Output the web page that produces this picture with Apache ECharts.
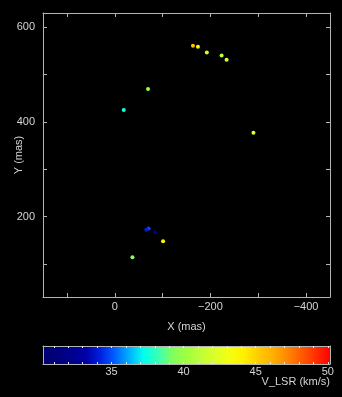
<!DOCTYPE html>
<html>
<head>
<meta charset="utf-8">
<script src="https://cdn.jsdelivr.net/npm/echarts@6/dist/echarts.min.js"></script>
<style>
html,body{margin:0;padding:0;background:#000;}
#chart{width:342px;height:397px;}
</style>
</head>
<body>
<div id="chart"></div>
<script>
// ---- data ----
const xMas = [-163.5, -173.9, -192.5, -223.4, -233.8, -69.6, -18.8, -290, -71, -66, -84, -101, -37];
const yMas = [560.6, 558.5, 546.5, 540, 531, 469.5, 425, 377, 174.7, 172, 167, 148, 114];
const vLsr = [45.5, 43.5, 41.8, 41.0, 42.0, 40.0, 37.5, 42.3, 34.8, 34.2, 31.8, 44.0, 39.5];

const xTicks = [-400, -300, -200, -100, 0, 100];
const xTickLabels = [-400, -200, 0];
const yTicks = [100, 200, 300, 400, 500, 600];
const yTickLabels = [200, 400, 600];
const cbarTicks = [31,32,33,34,35,36,37,38,39,40,41,42,43,44,45,46,47,48,49,50];
const cbarTickLabels = [35, 40, 45, 50];
const vMin = 30.25, vMax = 50.15;

// colour table (evenly spaced from vMin to vMax)
const colormap = ['#000070','#00007c','#00008e','#0000a8','#0020e0','#0060ff','#00b0ff','#00ffee',
  '#38ffb8','#80ff60','#a0ff40','#c0ff38','#dcff28','#f4ff10','#fff000','#ffcc00','#ffb000',
  '#ff8800','#ff5c00','#ff3000','#ff0000'];

const FONT = 'Liberation Sans';
const TXT = '#d4d4d4';
const FRAME = '#b4b4b4';
const fmt = v => String(v).replace('-', '\u2212');

const points = xMas.map((x, i) => [x, yMas[i], vLsr[i]]);

function frameAxis(extra) {
  return Object.assign({
    type: 'value',
    nameMoveOverlap: false,
    axisLine: {show: true, onZero: false, lineStyle: {color: FRAME, width: 1}},
    splitLine: {show: false}
  }, extra);
}

const chart = echarts.init(document.getElementById('chart'), null, {renderer: 'canvas'});
chart.setOption({
  backgroundColor: '#000',
  animation: false,
  textStyle: {fontFamily: FONT},
  title: {
    text: 'V_LSR (km/s)', right: 12, top: 376,
    textStyle: {color: TXT, fontSize: 11, fontWeight: 'normal', fontFamily: FONT},
    padding: 0
  },
  grid: [
    {left: 43, top: 13, width: 287, height: 284, outerBoundsMode: 'none', containLabel: false},
    {left: 43, top: 346, width: 287, height: 18, outerBoundsMode: 'none', containLabel: false}
  ],
  xAxis: [
    frameAxis({gridIndex: 0, position: 'bottom', min: -450, max: 150, inverse: true,
     axisTick: {show: true, inside: true, length: 4, customValues: xTicks, lineStyle: {color: FRAME}},
     axisLabel: {customValues: xTickLabels, formatter: fmt, color: TXT, fontSize: 11, margin: 4, fontFamily: FONT},
     name: 'X (mas)', nameLocation: 'middle', nameGap: 24,
     nameTextStyle: {color: TXT, fontSize: 11, fontFamily: FONT}}),
    frameAxis({gridIndex: 0, position: 'top', min: -450, max: 150, inverse: true,
     axisTick: {show: true, inside: true, length: 4, customValues: xTicks, lineStyle: {color: FRAME}},
     axisLabel: {show: false}}),
    frameAxis({gridIndex: 1, position: 'bottom', min: vMin, max: vMax, z: 5,
     axisTick: {show: true, inside: true, length: 2, customValues: cbarTicks, lineStyle: {color: '#e8e8e8'}},
     axisLabel: {customValues: cbarTickLabels, color: TXT, fontSize: 11, margin: 2, fontFamily: FONT}}),
    frameAxis({gridIndex: 1, position: 'top', min: vMin, max: vMax, z: 5,
     axisTick: {show: true, inside: true, length: 2, customValues: cbarTicks, lineStyle: {color: '#e8e8e8'}},
     axisLabel: {show: false}})
  ],
  yAxis: [
    frameAxis({gridIndex: 0, position: 'left', min: 30, max: 630,
     axisTick: {show: true, inside: true, length: 4, customValues: yTicks, lineStyle: {color: FRAME}},
     axisLabel: {customValues: yTickLabels, color: TXT, fontSize: 11, margin: 8, fontFamily: FONT},
     name: 'Y (mas)', nameLocation: 'middle', nameGap: 19,
     nameTextStyle: {color: TXT, fontSize: 11, fontFamily: FONT}}),
    frameAxis({gridIndex: 0, position: 'right', min: 30, max: 630,
     axisTick: {show: true, inside: true, length: 4, customValues: yTicks, lineStyle: {color: FRAME}},
     axisLabel: {show: false}}),
    frameAxis({gridIndex: 1, position: 'left', min: 0, max: 1, z: 5,
     axisTick: {show: false}, axisLabel: {show: false}}),
    frameAxis({gridIndex: 1, position: 'right', min: 0, max: 1, z: 5,
     axisTick: {show: false}, axisLabel: {show: false}})
  ],
  visualMap: {
    show: false, type: 'continuous', dimension: 2, seriesIndex: 0,
    min: vMin, max: vMax, inRange: {color: colormap}
  },
  series: [
    {type: 'scatter', xAxisIndex: 0, yAxisIndex: 0, symbol: 'circle', symbolSize: 4,
     data: points, itemStyle: {opacity: 1}},
    {type: 'custom', xAxisIndex: 2, yAxisIndex: 2, silent: true,
     data: [[vMin, vMax]],
     renderItem: function (params, api) {
       const p0 = api.coord([api.value(0), 1]);
       const p1 = api.coord([api.value(1), 0]);
       return {
         type: 'rect',
         shape: {x: p0[0], y: p0[1], width: p1[0] - p0[0], height: p1[1] - p0[1]},
         style: {
           fill: new echarts.graphic.LinearGradient(0, 0, 1, 0,
             colormap.map((c, i) => ({offset: i / (colormap.length - 1), color: c})))
         }
       };
     }}
  ]
});
</script>
</body>
</html>
